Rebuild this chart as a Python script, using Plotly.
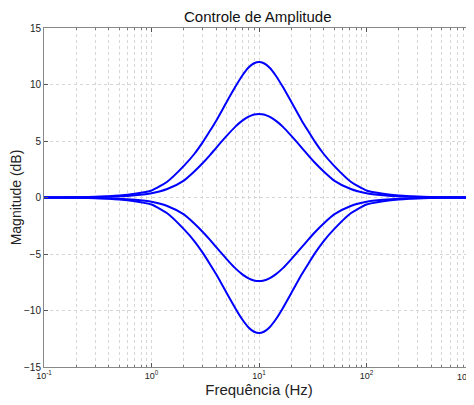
import plotly.graph_objects as go

# frequency points (Hz)
freq = [0.1, 0.2, 0.3, 0.5, 0.7, 1, 1.4, 2, 2.5, 3, 3.5, 4, 5, 6, 7, 8, 9, 10,
        11.1, 12.5, 14.3, 16.7, 20, 25, 28.6, 33.3, 40, 50, 71.4, 100, 143, 200, 333, 500, 1000]

# magnitude (dB) of the four curves
boost_12 = [0.01, 0.03, 0.06, 0.17, 0.33, 0.62, 1.4, 2.8, 3.85, 4.9, 5.9, 6.8, 8.45, 9.77, 10.8, 11.5, 11.88, 12.0,
            11.88, 11.5, 10.8, 9.77, 8.45, 6.8, 5.9, 4.9, 3.85, 2.8, 1.4, 0.62, 0.33, 0.17, 0.06, 0.03, 0.01]
boost_7 = [0.0, 0.02, 0.04, 0.1, 0.2, 0.38, 0.75, 1.5, 2.3, 3.05, 3.75, 4.4, 5.45, 6.25, 6.8, 7.15, 7.35, 7.4,
           7.35, 7.15, 6.8, 6.25, 5.45, 4.4, 3.75, 3.05, 2.3, 1.5, 0.75, 0.38, 0.2, 0.1, 0.04, 0.02, 0.0]
cut_7 = [-0.0, -0.02, -0.04, -0.1, -0.2, -0.38, -0.75, -1.5, -2.3, -3.05, -3.75, -4.4, -5.45, -6.25, -6.8, -7.15, -7.35, -7.4,
         -7.35, -7.15, -6.8, -6.25, -5.45, -4.4, -3.75, -3.05, -2.3, -1.5, -0.75, -0.38, -0.2, -0.1, -0.04, -0.02, -0.0]
cut_12 = [-0.01, -0.03, -0.06, -0.17, -0.33, -0.62, -1.4, -2.8, -3.85, -4.9, -5.9, -6.8, -8.45, -9.77, -10.8, -11.5, -11.88, -12.0,
          -11.88, -11.5, -10.8, -9.77, -8.45, -6.8, -5.9, -4.9, -3.85, -2.8, -1.4, -0.62, -0.33, -0.17, -0.06, -0.03, -0.01]

x_ticks = [0.1, 1, 10, 100]
x_labels = ["10<sup>-1</sup>", "10<sup>0</sup>", "10<sup>1</sup>", "10<sup>2</sup>"]
x_minor = [m * d for d in [0.1, 1, 10, 100] for m in range(2, 10)]
y_ticks = [-15, -10, -5, 0, 5, 10, 15]

fig = go.Figure()
for curve in [boost_12, boost_7, cut_7, cut_12]:
    fig.add_trace(go.Scatter(x=freq, y=curve, mode="lines",
                             line=dict(color="#0000ff", width=2, shape="spline", smoothing=0.6),
                             showlegend=False))

# last decade label sits at the window edge, kept inside so it stays readable
fig.add_annotation(text="10<sup>3</sup>", xref="paper", yref="paper", x=1, y=0,
                   xanchor="right", yanchor="top", yshift=-1, xshift=-1, showarrow=False,
                   font=dict(size=9, color="#222222"))

# the page body adds an 8px offset, so the figure is 8px smaller than the window
grid = "#d6d6d6"
fig.update_layout(
    width=466, height=397,
    margin=dict(l=36, r=0, t=20, b=38),
    paper_bgcolor="white", plot_bgcolor="white",
    font=dict(family="Liberation Sans, Arial, sans-serif", color="#222222", size=10),
    title=dict(text="Controle de Amplitude", x=0.536, xanchor="center", y=0.99, yanchor="top",
               pad=dict(t=0, b=0), font=dict(size=15, color="#111111")),
    xaxis=dict(type="log", range=[-1, 3], tickvals=x_ticks, ticktext=x_labels,
               showgrid=True, gridcolor=grid, griddash="dot", gridwidth=1,
               ticks="inside", ticklen=4, tickcolor="#555555",
               minor=dict(tickvals=x_minor, ticks="inside", ticklen=2, tickcolor="#777777",
                          showgrid=True, gridcolor=grid, griddash="dot", gridwidth=1),
               showline=True, linecolor="#888888", linewidth=1, mirror="ticks",
               zeroline=False, tickfont=dict(size=9),
               title=dict(text="Frequência (Hz)", font=dict(size=15), standoff=3)),
    yaxis=dict(range=[-15, 15], tickvals=y_ticks,
               showgrid=True, gridcolor=grid, griddash="dot", gridwidth=1,
               ticks="inside", ticklen=4, tickcolor="#555555",
               showline=True, linecolor="#888888", linewidth=1, mirror="ticks",
               zeroline=False, tickfont=dict(size=10),
               title=dict(text="Magnitude (dB)", font=dict(size=14), standoff=6)),
)

fig.write_html("out.html")
